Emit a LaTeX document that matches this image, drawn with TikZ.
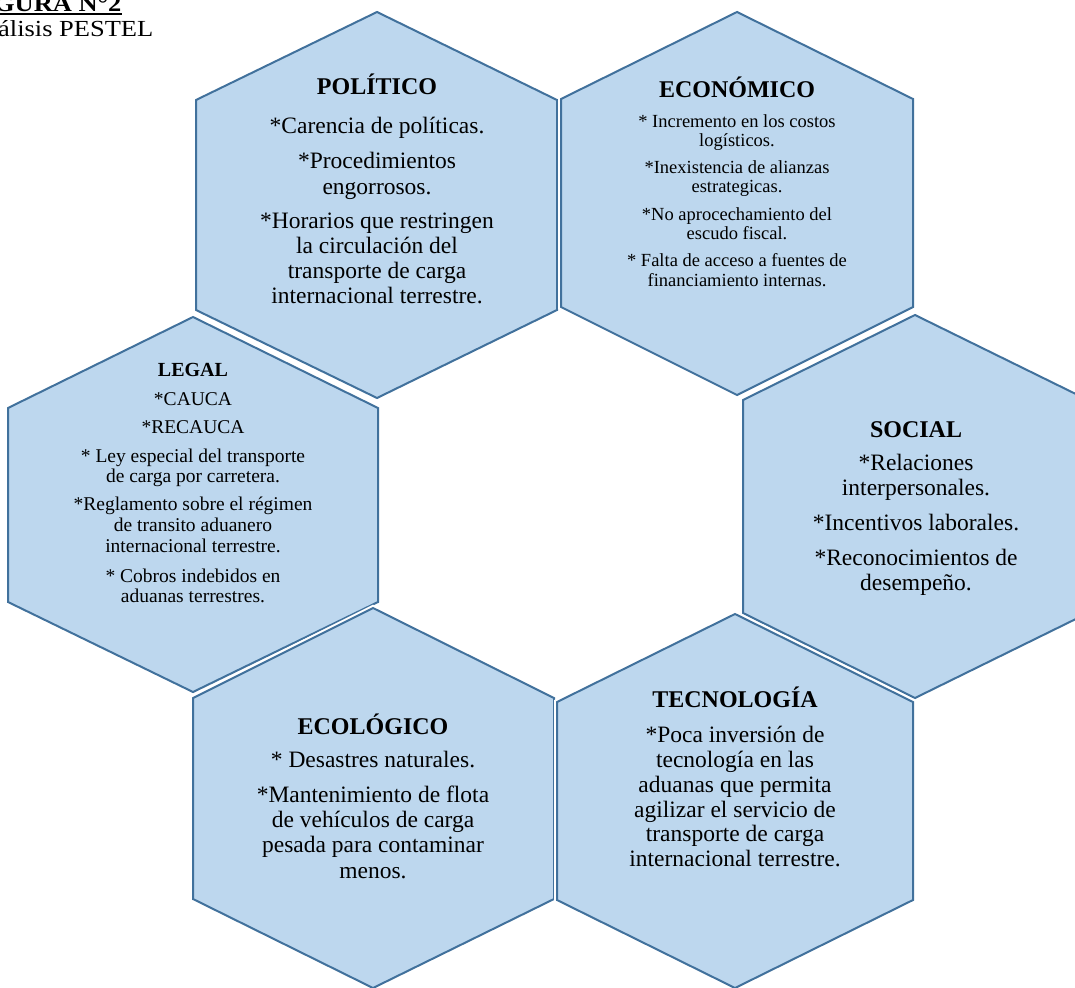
\documentclass[tikz,border=0pt]{standalone}
\usepackage{fontspec}
\setmainfont{Liberation Serif}

\definecolor{hexfill}{RGB}{189,215,238}
\definecolor{hexline}{RGB}{65,113,156}

\tikzset{
  hexgap/.style={draw=white, line width=6pt, line join=miter},
  hexcell/.style={fill=hexfill, draw=hexline, line width=2pt, line join=miter},
  celltitle/.style={anchor=base, inner sep=0pt, font=\fontsize{24}{26}\selectfont\bfseries},
  celltitlesmall/.style={anchor=base, inner sep=0pt, font=\fontsize{20}{22}\selectfont\bfseries},
  bodyline/.style={anchor=base, inner sep=0pt, font=\fontsize{23.5}{25}\selectfont},
  bodysmall/.style={anchor=base, inner sep=0pt, font=\fontsize{18.5}{19}\selectfont},
  bodylegal/.style={anchor=base, inner sep=0pt, font=\fontsize{19.5}{21}\selectfont},
  heading/.style={anchor=base east, inner sep=0pt, xscale=1.15, font=\fontsize{23}{25}\selectfont},
}

% pointy-top hexagon: left x, centre x, right x, top y, upper y, lower y, bottom y
\newcommand\pestelhex[7]{%
  \draw[hexgap] (#1,#5) -- (#2,#4) -- (#3,#5) -- (#3,#6) -- (#2,#7) -- (#1,#6) -- cycle;
  \draw[hexcell] (#1,#5) -- (#2,#4) -- (#3,#5) -- (#3,#6) -- (#2,#7) -- (#1,#6) -- cycle;
}

% one centred text line per entry: baseline y / text
\newcommand\pestellines[4]{%
  \foreach \yy/\txt [count=\k] in {#4} {\node[#2] (#1-\k) at (#3,\yy) {\txt};}
}

\begin{document}
\begin{tikzpicture}[x=1pt, y=-1pt]
\useasboundingbox (0,0) rectangle (1075,987);
\clip (0,0) rectangle (1075,987);

% heading
\node[heading, font=\fontsize{23}{25}\selectfont\bfseries] (fig) at (121.7,11.7) {FIGURA N°2};
\draw[line width=1.6pt] ([yshift=-2.6pt]fig.base west) -- ([yshift=-2.6pt]fig.base east);
\node[heading] (sub) at (153.5,36.7) {Análisis PESTEL};

% the six hexagons
\pestelhex{196}{377}{557}{12}{100}{310}{398}
\pestelhex{561}{737}{913}{12}{99}{307}{395}
\pestelhex{8}{193}{378}{317}{408}{602}{692}
\pestelhex{743}{915}{1088}{315}{400}{613}{698}
\pestelhex{193}{373}{554}{608}{698}{899}{988}
\pestelhex{557}{735}{913}{614}{702}{900}{988}

% POLÍTICO
\node[celltitle] (pol) at (377,95) {POLÍTICO};
\pestellines{pol}{bodyline}{377}{134/*Carencia de políticas., 169/*Procedimientos, 194/engorrosos., 228/*Horarios que restringen, 253/la circulación del, 278/transporte de carga, 303/internacional terrestre.}

% ECONÓMICO
\node[celltitle] (eco) at (737,98) {ECONÓMICO};
\pestellines{eco}{bodysmall}{737}{128/* Incremento en los costos, 147/logísticos., 174/*Inexistencia de alianzas, 193/estrategicas., 220/*No aprocechamiento del, 239/escudo fiscal., 266/* Falta de acceso a fuentes de, 286/financiamiento internas.}

% LEGAL
\node[celltitlesmall] (leg) at (193,376) {LEGAL};
\pestellines{leg}{bodylegal}{193}{405/*CAUCA, 433/*RECAUCA, 462/* Ley especial del transporte, 482/de carga por carretera., 510/*Reglamento sobre el régimen, 531/de transito aduanero, 552/internacional terrestre., 582/* Cobros indebidos en, 602/aduanas terrestres.}

% SOCIAL
\node[celltitle] (soc) at (916,437) {SOCIAL};
\pestellines{soc}{bodyline}{916}{470/*Relaciones, 495/interpersonales., 530/*Incentivos laborales., 565/*Reconocimientos de, 590/desempeño.}

% ECOLÓGICO
\node[celltitle] (ecl) at (373,734) {ECOLÓGICO};
\pestellines{ecl}{bodyline}{373}{767/* Desastres naturales., 802/*Mantenimiento de flota, 827/de vehículos de carga, 852/pesada para contaminar, 878/menos.}

% TECNOLOGÍA
\node[celltitle] (tec) at (735,707) {TECNOLOGÍA};
\pestellines{tec}{bodyline}{735}{742/*Poca inversión de, 767/tecnología en las, 792/aduanas que permita, 817/agilizar el servicio de, 841/transporte de carga, 866/internacional terrestre.}
\end{tikzpicture}
\end{document}
